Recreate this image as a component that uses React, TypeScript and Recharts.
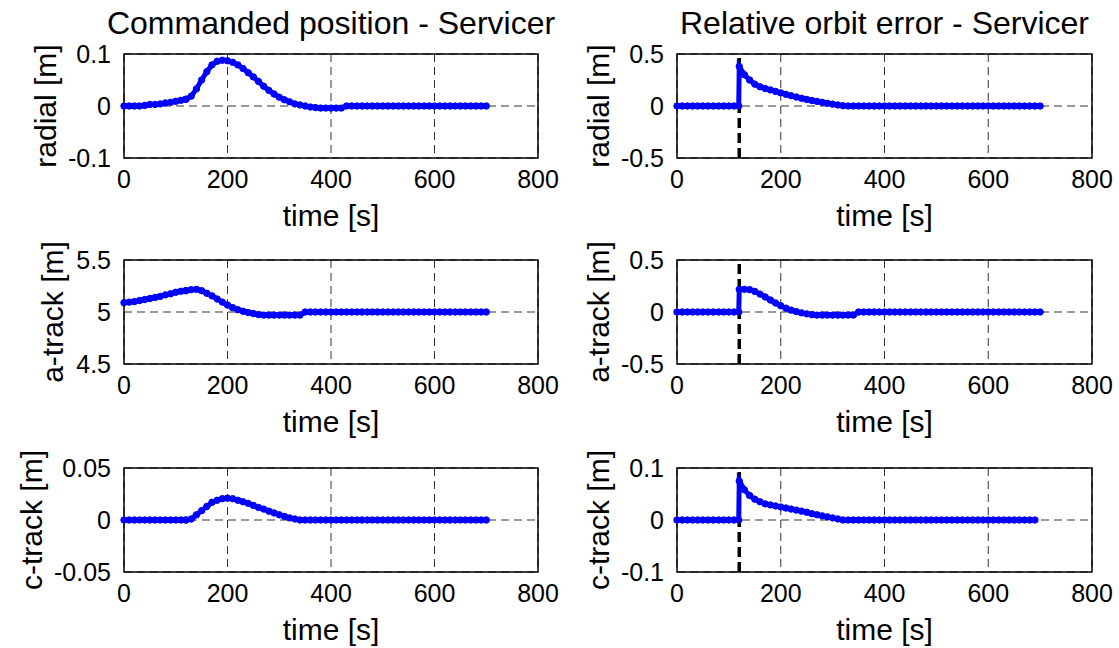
import React from 'react';
import {
  LineChart,
  Line,
  XAxis,
  YAxis,
  CartesianGrid,
  ReferenceArea,
  ReferenceLine,
} from 'recharts';

// sample times [s] (119 is the last sample before the switch at 120 s)
const time = [
  0, 10, 20, 30, 40, 50, 60, 70, 80, 90, 100, 110, 119, 120, 130, 140, 150, 160, 170, 180,
  190, 200, 210, 220, 230, 240, 250, 260, 270, 280, 290, 300, 310, 320, 330, 340, 350, 360,
  370, 380, 390, 400, 410, 420, 430, 440, 450, 460, 470, 480, 490, 500, 510, 520, 530, 540,
  550, 560, 570, 580, 590, 600, 610, 620, 630, 640, 650, 660, 670, 680, 690, 700,
];

// commanded position
const radialCmd = [
  0, 0, 0, 0, 0.001, 0.003, 0.003, 0.004, 0.006, 0.007, 0.009, 0.011, 0.013, 0.013, 0.019,
  0.033, 0.05, 0.066, 0.079, 0.086, 0.088, 0.087, 0.084, 0.079, 0.072, 0.064, 0.056, 0.047,
  0.038, 0.03, 0.023, 0.017, 0.012, 0.008, 0.004, 0.002, 0, -0.002, -0.003, -0.004, -0.004,
  -0.004, -0.004, -0.004, 0, 0, 0, 0, 0, 0, 0, 0, 0, 0, 0, 0, 0, 0, 0, 0, 0, 0, 0, 0, 0, 0,
  0, 0, 0, 0, 0, 0,
];
const aTrackCmd = [
  5.09, 5.095, 5.1, 5.11, 5.12, 5.13, 5.14, 5.15, 5.165, 5.175, 5.19, 5.2, 5.205, 5.205,
  5.215, 5.218, 5.205, 5.18, 5.155, 5.125, 5.095, 5.067, 5.042, 5.022, 5.007, 4.995, 4.985,
  4.975, 4.97, 4.97, 4.97, 4.97, 4.97, 4.97, 4.97, 4.97, 5, 5, 5, 5, 5, 5, 5, 5, 5, 5, 5, 5,
  5, 5, 5, 5, 5, 5, 5, 5, 5, 5, 5, 5, 5, 5, 5, 5, 5, 5, 5, 5, 5, 5, 5, 5,
];
const cTrackCmd = [
  0, 0, 0, 0, 0, 0, 0, 0, 0, 0, 0, 0, 0, 0, 0.001, 0.005, 0.009, 0.013, 0.017, 0.019, 0.0205,
  0.021, 0.0205, 0.019, 0.0175, 0.016, 0.014, 0.012, 0.0105, 0.0085, 0.0068, 0.005, 0.0035,
  0.002, 0.001, 0, 0, 0, 0, 0, 0, 0, 0, 0, 0, 0, 0, 0, 0, 0, 0, 0, 0, 0, 0, 0, 0, 0, 0, 0, 0,
  0, 0, 0, 0, 0, 0, 0, 0, 0, 0, 0,
];

// relative orbit error
const radialErr = [
  0, 0, 0, 0, 0, 0, 0, 0, 0, 0, 0, 0, 0, 0.38, 0.3, 0.25, 0.21, 0.185, 0.168, 0.155, 0.14,
  0.126, 0.112, 0.099, 0.086, 0.074, 0.063, 0.053, 0.044, 0.035, 0.026, 0.018, 0.01, 0.003,
  0, 0, 0, 0, 0, 0, 0, 0, 0, 0, 0, 0, 0, 0, 0, 0, 0, 0, 0, 0, 0, 0, 0, 0, 0, 0, 0, 0, 0, 0,
  0, 0, 0, 0, 0, 0, 0, 0,
];
const aTrackErr = [
  0, 0, 0, 0, 0, 0, 0, 0, 0, 0, 0, 0, 0, 0.218, 0.218, 0.215, 0.198, 0.172, 0.145, 0.115,
  0.087, 0.06, 0.037, 0.018, 0.004, -0.008, -0.018, -0.026, -0.03, -0.03, -0.03, -0.03,
  -0.03, -0.03, -0.03, -0.03, 0, 0, 0, 0, 0, 0, 0, 0, 0, 0, 0, 0, 0, 0, 0, 0, 0, 0, 0, 0, 0,
  0, 0, 0, 0, 0, 0, 0, 0, 0, 0, 0, 0, 0, 0, 0,
];
const cTrackErr = [
  0, 0, 0, 0, 0, 0, 0, 0, 0, 0, 0, 0, 0, 0.075, 0.058, 0.047, 0.04, 0.035, 0.031, 0.029,
  0.027, 0.025, 0.023, 0.021, 0.019, 0.017, 0.015, 0.012, 0.01, 0.008, 0.006, 0.004, 0.002,
  0, 0, 0, 0, 0, 0, 0, 0, 0, 0, 0, 0, 0, 0, 0, 0, 0, 0, 0, 0, 0, 0, 0, 0, 0, 0, 0, 0, 0, 0,
  0, 0, 0, 0, 0, 0, 0, 0,
];

const xTicks = [0, 200, 400, 600, 800];
const switchTime = 120;

const BLUE = '#0000ff';
const FONT = '"Liberation Sans", Arial, Helvetica, sans-serif';

type PanelProps = {
  left: number;
  top: number;
  width: number;
  axisW: number;
  right: number;
  labelX: number;
  values: number[];
  yTicks: number[];
  yLabel: string;
  title?: string;
  marker?: number;
};

const Panel = ({ left, top, width, axisW, right, labelX, values, yTicks, yLabel, title, marker }: PanelProps) => {
  const data = time.map((t, i) => ({ t, v: values[i] }));
  const yMin = yTicks[0];
  const yMax = yTicks[yTicks.length - 1];

  return (
    <div style={{ position: 'absolute', left, top }}>
      <LineChart width={width} height={234} data={data} margin={{ top: 54, right, bottom: 0, left: 0 }}>
        <CartesianGrid stroke="#333" strokeDasharray="8 5" strokeWidth={1} />
        <XAxis
          dataKey="t"
          type="number"
          domain={[0, 800]}
          ticks={xTicks}
          interval={0}
          height={76}
          axisLine={false}
          tickLine={false}
          tickSize={4}
          tickMargin={8}
          tick={{ fontSize: 25, fill: '#000' }}
          label={{ value: 'time [s]', position: 'insideBottom', offset: 8, fontSize: 30, fill: '#000' }}
        />
        <YAxis
          type="number"
          domain={[yMin, yMax]}
          ticks={yTicks}
          interval={0}
          allowDataOverflow
          width={axisW}
          axisLine={false}
          tickLine={false}
          tickSize={4}
          tickMargin={9}
          tick={{ fontSize: 25, fill: '#000' }}
          label={{
            value: yLabel,
            angle: -90,
            position: 'insideLeft',
            offset: labelX,
            fontSize: 30,
            fill: '#000',
            textAnchor: 'middle',
            style: { textAnchor: 'middle' },
          }}
        />
        <ReferenceArea
          x1={0}
          x2={800}
          y1={yMin}
          y2={yMax}
          fill="none"
          stroke="#000"
          strokeWidth={1.5}
          label={title ? { value: title, position: 'top', offset: 20, fontSize: 32, fill: '#000' } : undefined}
        />
        {marker !== undefined && (
          <ReferenceLine x={marker} stroke="#000" strokeWidth={3.5} strokeDasharray="10 5" />
        )}
        <Line
          type="linear"
          dataKey="v"
          stroke={BLUE}
          strokeWidth={5}
          dot={{ r: 3.2, fill: BLUE, stroke: BLUE, strokeWidth: 1 }}
          isAnimationActive={false}
        />
      </LineChart>
    </div>
  );
};

const rows = [0, 206, 414];

export default function App() {
  return (
    <div
      style={{
        position: 'absolute',
        left: 0,
        top: 0,
        width: 1119,
        height: 648,
        overflow: 'hidden',
        background: '#fff',
        fontFamily: FONT,
      }}
    >
      {/* left column: commanded position */}
      <Panel left={0} top={rows[0]} width={560} axisW={124} right={22} labelX={45}
        values={radialCmd} yTicks={[-0.1, 0, 0.1]} yLabel="radial [m]" title="Commanded position - Servicer" />
      <Panel left={0} top={rows[1]} width={560} axisW={124} right={22} labelX={52}
        values={aTrackCmd} yTicks={[4.5, 5, 5.5]} yLabel="a-track [m]" />
      <Panel left={0} top={rows[2]} width={560} axisW={124} right={22} labelX={31}
        values={cTrackCmd} yTicks={[-0.05, 0, 0.05]} yLabel="c-track [m]" />

      {/* right column: relative orbit error */}
      <Panel left={560} top={rows[0]} width={559} axisW={117} right={27} labelX={38}
        values={radialErr} yTicks={[-0.5, 0, 0.5]} yLabel="radial [m]" title="Relative orbit error - Servicer"
        marker={switchTime} />
      <Panel left={560} top={rows[1]} width={559} axisW={117} right={27} labelX={38}
        values={aTrackErr} yTicks={[-0.5, 0, 0.5]} yLabel="a-track [m]" marker={switchTime} />
      <Panel left={560} top={rows[2]} width={559} axisW={117} right={27} labelX={38}
        values={cTrackErr} yTicks={[-0.1, 0, 0.1]} yLabel="c-track [m]" marker={switchTime} />
    </div>
  );
}
